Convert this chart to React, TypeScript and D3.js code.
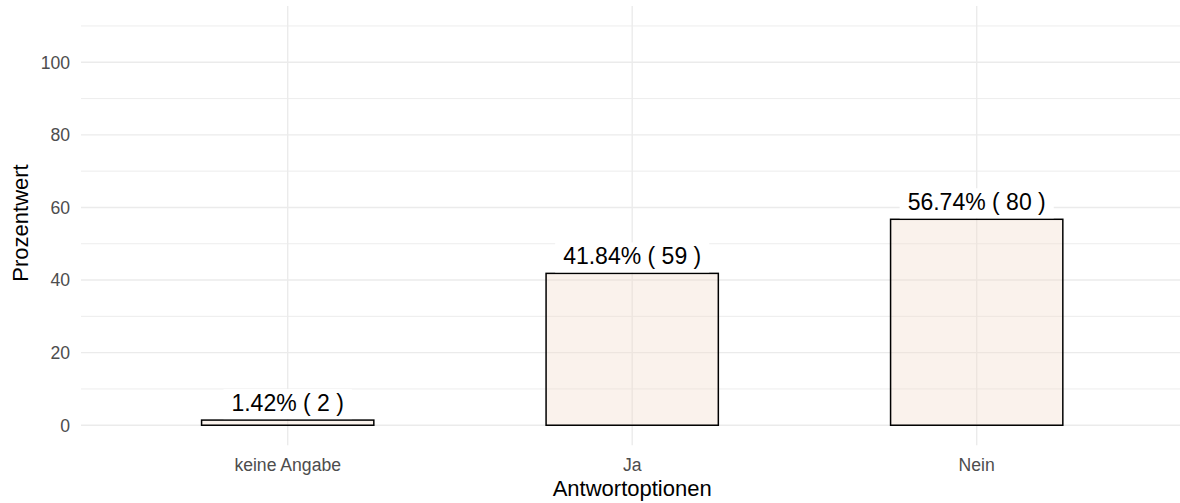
import React, { useEffect, useRef } from "react";
import * as d3 from "d3";

const categories = ["keine Angabe", "Ja", "Nein"];
const percents = [1.42, 41.84, 56.74];
const counts = [2, 59, 80];
const majorTicks = [0, 20, 40, 60, 80, 100];
const minorTicks = [10, 30, 50, 70, 90, 110];

const W = 1180;
const H = 503;
const FONT = "'Liberation Sans', Arial, Helvetica, sans-serif";

export default function App() {
  const ref = useRef<SVGSVGElement | null>(null);

  useEffect(() => {
    const svg = d3.select(ref.current);
    svg.selectAll("*").remove();

    const left = 81;
    const right = 1183.4;
    const top = 6;
    const bottom = 445.2;

    const x = d3
      .scaleBand<string>()
      .domain(categories)
      .range([left, right])
      .paddingInner(0.5)
      .paddingOuter(0.35);
    const y = d3.scaleLinear().domain([-5.5, 115.5]).range([bottom, top]);

    const g = svg.append("g");

    // minor grid
    g.selectAll("line.minor")
      .data(minorTicks)
      .enter()
      .append("line")
      .attr("x1", left)
      .attr("x2", W)
      .attr("y1", (d) => y(d))
      .attr("y2", (d) => y(d))
      .attr("stroke", "#EBEBEB")
      .attr("stroke-width", 0.9);

    // major grid
    g.selectAll("line.major")
      .data(majorTicks)
      .enter()
      .append("line")
      .attr("x1", left)
      .attr("x2", W)
      .attr("y1", (d) => y(d))
      .attr("y2", (d) => y(d))
      .attr("stroke", "#EBEBEB")
      .attr("stroke-width", 1.4);

    // vertical grid
    g.selectAll("line.vx")
      .data(categories)
      .enter()
      .append("line")
      .attr("x1", (d) => (x(d) as number) + x.bandwidth() / 2)
      .attr("x2", (d) => (x(d) as number) + x.bandwidth() / 2)
      .attr("y1", top)
      .attr("y2", bottom)
      .attr("stroke", "#EBEBEB")
      .attr("stroke-width", 1.4);

    // y tick labels
    g.selectAll("text.yt")
      .data(majorTicks)
      .enter()
      .append("text")
      .attr("x", 70)
      .attr("y", (d) => y(d) + 6.3)
      .attr("text-anchor", "end")
      .attr("font-family", FONT)
      .attr("font-size", 17.6)
      .attr("fill", "#4D4D4D")
      .text((d) => String(d));

    // x tick labels
    g.selectAll("text.xt")
      .data(categories)
      .enter()
      .append("text")
      .attr("x", (d) => (x(d) as number) + x.bandwidth() / 2)
      .attr("y", 470.5)
      .attr("text-anchor", "middle")
      .attr("font-family", FONT)
      .attr("font-size", 17.6)
      .attr("fill", "#4D4D4D")
      .text((d) => d);

    // bars
    const data = categories.map((c, i) => ({ c, p: percents[i], n: counts[i] }));
    g.selectAll("rect.bar")
      .data(data)
      .enter()
      .append("rect")
      .attr("x", (d) => x(d.c) as number)
      .attr("width", x.bandwidth())
      .attr("y", (d) => y(d.p))
      .attr("height", (d) => y(0) - y(d.p))
      .attr("fill", "rgba(240,218,200,0.35)")
      .attr("stroke", "#000")
      .attr("stroke-width", 1.5);

    // labels
    data.forEach((d) => {
      const cx = (x(d.c) as number) + x.bandwidth() / 2;
      const yt = y(d.p);
      const lg = g.append("g");
      const rect = lg.append("rect").attr("fill", "#FFFFFF");
      const t = lg
        .append("text")
        .attr("x", cx)
        .attr("y", yt - 9.3)
        .attr("text-anchor", "middle")
        .attr("font-family", FONT)
        .attr("font-size", 23)
        .attr("fill", "#000")
        .text(`${d.p.toFixed(2)}% ( ${d.n} )`);
      const tw = (t.node() as SVGTextElement).getComputedTextLength();
      rect
        .attr("x", cx - tw / 2 - 8)
        .attr("width", tw + 16)
        .attr("y", yt - 31)
        .attr("height", 30);
    });

    // axis titles
    g.append("text")
      .attr("x", (left + right) / 2)
      .attr("y", 495.5)
      .attr("text-anchor", "middle")
      .attr("font-family", FONT)
      .attr("font-size", 22)
      .attr("fill", "#000")
      .text("Antwortoptionen");

    g.append("text")
      .attr("transform", `translate(28,223) rotate(-90)`)
      .attr("text-anchor", "middle")
      .attr("font-family", FONT)
      .attr("font-size", 22)
      .attr("fill", "#000")
      .text("Prozentwert");
  }, []);

  return (
    <div style={{ position: "absolute", left: 0, top: 0 }}>
      <svg ref={ref} width={W} height={H} style={{ display: "block", background: "#fff" }} />
    </div>
  );
}
